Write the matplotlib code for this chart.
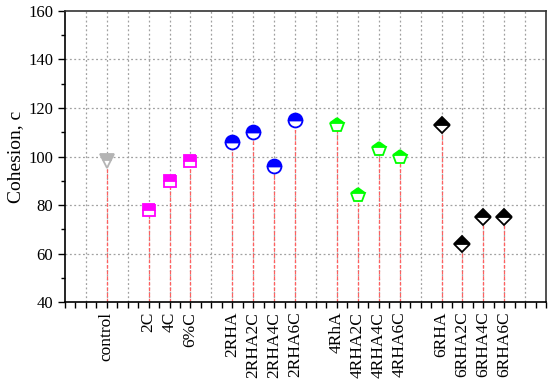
import matplotlib
matplotlib.use("Agg")
import matplotlib.pyplot as plt
from matplotlib.ticker import MultipleLocator

plt.rcParams['font.family'] = ['Liberation Serif', 'DejaVu Serif']

categories = ["control", "2C", "4C", "6%C",
              "2RHA", "2RHA2C", "2RHA4C", "2RHA6C",
              "4RhA", "4RHA2C", "4RHA4C", "4RHA6C",
              "6RHA", "6RHA2C", "6RHA4C", "6RHA6C"]
positions = [2, 4, 5, 6, 8, 9, 10, 11, 13, 14, 15, 16, 18, 19, 20, 21]
values = [98, 78, 90, 98, 106, 110, 96, 115, 113, 84, 103, 100, 113, 64, 75, 75]
groups = [0, 1, 1, 1, 2, 2, 2, 2, 3, 3, 3, 3, 4, 4, 4, 4]
group_markers = ['v', 's', 'o', 'p', 'D']
group_colors = ['#b4b4b4', '#ff00ff', '#0000ff', '#00ff00', '#000000']
group_sizes = [10, 9, 10, 10.5, 8.5]

fig = plt.figure(figsize=(5.5, 3.87), dpi=100)
ax = fig.add_axes([0.118, 0.2196, 0.875, 0.752])

ax.set_xlim(0, 23)
ax.set_ylim(40, 160)

ax.yaxis.set_major_locator(MultipleLocator(20))
ax.yaxis.set_minor_locator(MultipleLocator(10))
ax.set_xticks(positions)
ax.set_xticklabels(categories, rotation=90, fontsize=12.5)
ax.xaxis.set_minor_locator(MultipleLocator(0.5))

# grid
for gx in range(1, 23):
    ax.axvline(gx, color='#a0a0a0', linestyle=(0, (1.5, 2)), linewidth=0.9, zorder=0)
for gy in range(60, 160, 20):
    ax.axhline(gy, color='#a0a0a0', linestyle=(0, (1.5, 2)), linewidth=0.9, zorder=0)

for x, v, g in zip(positions, values, groups):
    ax.plot([x, x], [40, v], color='#ff6060', linestyle=(0, (3, 1.5)), linewidth=0.9, zorder=1)
    ax.plot(x, v, marker=group_markers[g], markersize=group_sizes[g],
            fillstyle='top', color=group_colors[g], markeredgecolor=group_colors[g],
            markerfacecoloralt='white', markeredgewidth=1.3, linestyle='none', zorder=3)

ax.tick_params(axis='y', which='major', direction='out', length=5, width=1, labelsize=12)
ax.tick_params(axis='y', which='minor', direction='out', length=3, width=1)
ax.tick_params(axis='x', which='major', direction='out', length=4, width=1, pad=3)
ax.tick_params(axis='x', which='minor', direction='out', length=4, width=1)

for s in ['left', 'bottom']:
    ax.spines[s].set_linewidth(1.2)
    ax.spines[s].set_color('black')
for s in ['top', 'right']:
    ax.spines[s].set_linewidth(1.2)
    ax.spines[s].set_color('#333333')

ax.set_ylabel("Cohesion, c", fontsize=14, labelpad=3)

fig.savefig("out.png", dpi=100)
